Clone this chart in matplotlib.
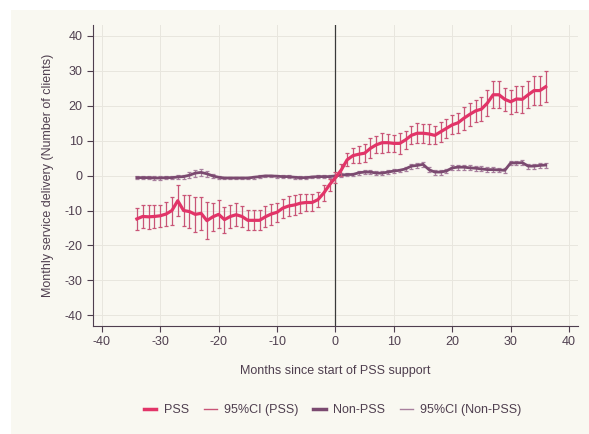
import numpy as np
import matplotlib
matplotlib.use("Agg")
import matplotlib.pyplot as plt
from matplotlib.patches import Rectangle
from matplotlib.lines import Line2D

plt.rcParams["font.family"] = ["Liberation Sans", "DejaVu Sans"]
plt.rcParams["axes.unicode_minus"] = False

# months relative to start of PSS support
months = np.arange(-34, 37)

pss = [-12.4, -11.7, -11.8, -11.7, -11.5, -11.0, -10.0, -7.2, -10.0, -10.3,
       -11.1, -10.8, -12.9, -11.8, -11.1, -12.6, -11.7, -11.2, -11.7, -12.8,
       -12.8, -12.8, -11.8, -11.0, -10.5, -9.3, -8.7, -8.4, -7.9, -7.7,
       -7.7, -6.9, -5.0, -2.6, -0.6,
       1.6, 4.5, 5.7, 6.1, 6.4, 7.8, 8.8, 9.4, 9.4, 9.2,
       9.2, 10.2, 11.5, 12.1, 12.1, 11.9, 11.5, 12.5, 13.5, 14.5,
       15.1, 16.4, 17.5, 18.5, 19.0, 20.7, 23.1, 23.1, 21.8, 21.1,
       21.9, 21.8, 23.1, 24.3, 24.3, 25.4]
pss_ci = [3.2, 3.3, 3.4, 3.3, 3.2, 3.5, 4.0, 4.5, 4.4, 4.8,
          4.9, 4.7, 5.2, 4.0, 4.0, 3.7, 3.3, 3.3, 2.9, 2.9,
          2.9, 2.9, 3.0, 3.0, 2.7, 2.7, 2.8, 2.9, 2.7, 2.5,
          2.4, 2.2, 2.4, 1.7, 1.5,
          1.7, 1.9, 2.1, 2.4, 2.6, 2.9, 2.4, 2.9, 2.6, 2.5,
          2.9, 2.5, 2.6, 2.8, 2.7, 2.8, 2.6, 2.9, 2.7, 2.7,
          2.8, 3.3, 3.2, 3.1, 3.5, 3.8, 3.8, 3.8, 3.3, 3.5,
          3.6, 3.8, 3.8, 4.1, 4.1, 4.5]

non_pss = [-0.6, -0.6, -0.6, -0.7, -0.7, -0.6, -0.6, -0.4, -0.3, 0.1,
           0.7, 0.9, 0.5, -0.1, -0.5, -0.7, -0.7, -0.7, -0.7, -0.7,
           -0.5, -0.3, -0.1, -0.1, -0.2, -0.3, -0.3, -0.5, -0.6, -0.6,
           -0.4, -0.3, -0.3, -0.3, -0.1,
           0.1, 0.3, 0.3, 0.8, 1.0, 1.0, 0.7, 0.7, 1.0, 1.3,
           1.5, 1.9, 2.7, 2.9, 3.2, 1.7, 1.0, 1.0, 1.3, 2.2,
           2.4, 2.4, 2.2, 2.1, 1.9, 1.7, 1.7, 1.6, 1.5, 3.6,
           3.6, 3.7, 2.7, 2.7, 2.9, 3.0]
non_pss_ci = [0.5] * 8 + [0.6, 0.8, 1.0, 1.0, 0.8, 0.6] + [0.4] * 21 + \
             [0.5] * 12 + [0.7] * 24

c_pss = "#e23468"
c_pss_ci = "#c95577"
c_non = "#7b4a70"
c_non_ci = "#a8809e"
c_axis = "#4f3f4f"
bg = "#f9f8f1"

fig = plt.figure(figsize=(5.89, 4.34), dpi=100, facecolor="white")
fig.patches.append(Rectangle((11 / 589, 0), 1, 1 - 10 / 434, transform=fig.transFigure,
                             facecolor=bg, edgecolor="none", zorder=-10))
ax = fig.add_axes([0.158, 0.249, 0.823, 0.693])
ax.set_facecolor(bg)

ax.errorbar(months, non_pss, yerr=non_pss_ci, fmt="none", ecolor=c_non_ci,
            elinewidth=0.9, capsize=1.5, capthick=0.9, zorder=3)
ax.plot(months, non_pss, color=c_non, lw=2.0, zorder=4)
ax.errorbar(months, pss, yerr=pss_ci, fmt="none", ecolor=c_pss_ci,
            elinewidth=0.9, capsize=1.5, capthick=0.9, zorder=5)
ax.plot(months, pss, color=c_pss, lw=2.3, zorder=6)

ax.axvline(0, color="#3a3a3a", lw=0.9, zorder=2)

ax.set_xlim(-41.5, 41.5)
ax.set_ylim(-43, 43)
ax.set_xticks(np.arange(-40, 41, 10))
ax.set_yticks(np.arange(-40, 41, 10))
ax.grid(True, color="#e8e6de", lw=0.7, zorder=0)
ax.set_axisbelow(True)

for s in ["top", "right"]:
    ax.spines[s].set_visible(False)
for s in ["left", "bottom"]:
    ax.spines[s].set_color(c_axis)
    ax.spines[s].set_linewidth(0.8)
ax.tick_params(colors=c_axis, labelsize=9, length=4, width=0.8, labelcolor=c_axis)

ax.set_xlabel("Months since start of PSS support", fontsize=9, color=c_axis, labelpad=12)
ax.set_ylabel("Monthly service delivery (Number of clients)", fontsize=9, color=c_axis,
              labelpad=8)

handles = [Line2D([], [], color=c_pss, lw=2.5),
           Line2D([], [], color=c_pss_ci, lw=1),
           Line2D([], [], color=c_non, lw=2.5),
           Line2D([], [], color=c_non_ci, lw=1)]
labels = ["PSS", "95%CI (PSS)", "Non-PSS", "95%CI (Non-PSS)"]
leg = fig.legend(handles, labels, loc="center", bbox_to_anchor=(0.565, 0.055), ncol=4,
                 frameon=False, fontsize=9, handlelength=1.0, columnspacing=1.2,
                 handletextpad=0.6)
for t in leg.get_texts():
    t.set_color(c_axis)

fig.savefig("out.png", dpi=100, facecolor="white")
